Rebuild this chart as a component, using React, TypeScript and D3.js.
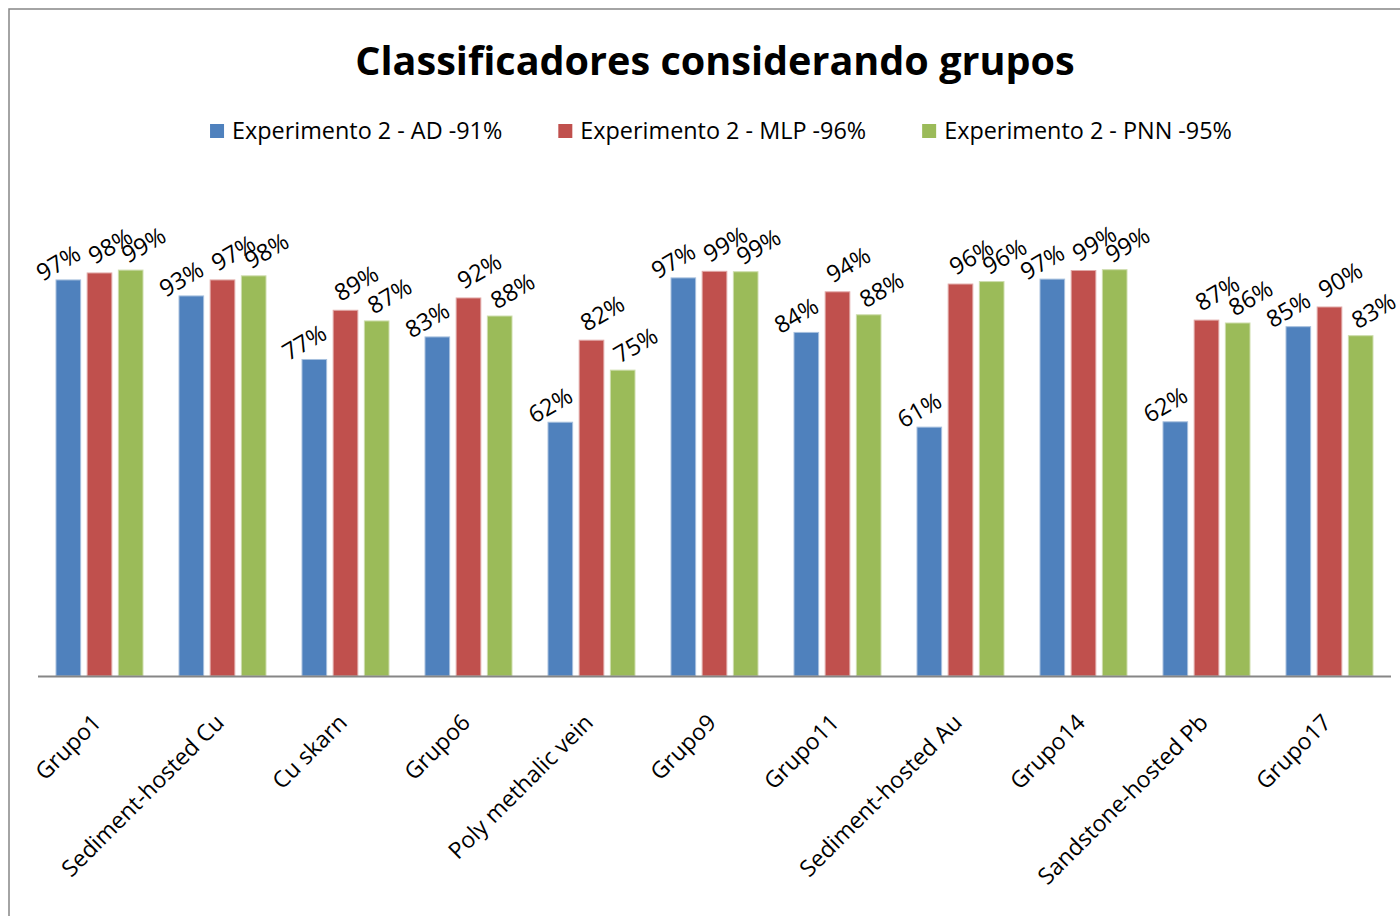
import React, { useEffect, useRef } from "react";
import * as d3 from "d3";

const categories = [
  "Grupo1",
  "Sediment-hosted Cu",
  "Cu skarn",
  "Grupo6",
  "Poly methalic vein",
  "Grupo9",
  "Grupo11",
  "Sediment-hosted Au",
  "Grupo14",
  "Sandstone-hosted Pb",
  "Grupo17",
];
const seriesNames = [
  "Experimento 2 - AD -91%",
  "Experimento 2 - MLP -96%",
  "Experimento 2 - PNN -95%",
];
const adValues = [0.966, 0.927, 0.772, 0.827, 0.619, 0.971, 0.838, 0.607, 0.968, 0.62, 0.852];
const mlpValues = [0.983, 0.966, 0.892, 0.922, 0.819, 0.987, 0.937, 0.956, 0.989, 0.868, 0.9];
const pnnValues = [0.99, 0.976, 0.866, 0.878, 0.746, 0.986, 0.881, 0.962, 0.991, 0.861, 0.83];
const titleText = "Classificadores considerando grupos";

const colors = ["#4F81BD", "#C0504D", "#9BBB59"];
const strokes = ["#A7C0DE", "#E0A8A6", "#CDDDAC"];
const labelOffsets = [
  [-10, -17],
  [11, -27],
  [13, -25],
];

const W = 1400;
const H = 916;
const FONT = "'Open Sans', sans-serif";

export default function App() {
  const ref = useRef<SVGSVGElement>(null);

  useEffect(() => {
    const svg = d3.select(ref.current);
    svg.selectAll("*").remove();

    const allValues = [adValues, mlpValues, pnnValues];

    svg
      .append("rect")
      .attr("x", 9)
      .attr("y", 9)
      .attr("width", 1430)
      .attr("height", 940)
      .attr("fill", "#fff")
      .attr("stroke", "#868686")
      .attr("stroke-width", 1.5);

    const x0 = d3.scaleBand<string>().domain(categories).range([38, 1391]);
    const x1 = d3
      .scaleBand<number>()
      .domain([0, 1, 2])
      .range([18, 105])
      .paddingInner(0.21);
    const y = d3.scaleLinear().domain([0, 1.2]).range([676, 184]);

    svg
      .append("text")
      .attr("x", 715)
      .attr("y", 75)
      .attr("text-anchor", "middle")
      .attr("font-family", FONT)
      .attr("font-weight", "bold")
      .attr("font-size", 39.6)
      .attr("fill", "#000")
      .text(titleText);

    const legend = svg.append("g");
    const items = seriesNames.map((name, i) => {
      const g = legend.append("g");
      g.append("rect")
        .attr("x", 0)
        .attr("y", -7)
        .attr("width", 14)
        .attr("height", 14)
        .attr("fill", colors[i]);
      const t = g
        .append("text")
        .attr("x", 22)
        .attr("y", 0)
        .attr("dy", "0.35em")
        .attr("font-family", FONT)
        .attr("font-size", 23.4)
        .attr("fill", "#000")
        .text(name);
      const len = (t.node() as SVGTextElement).getComputedTextLength();
      return { g, w: 22 + len };
    });
    const gap = 56;
    const total = d3.sum(items, (d) => d.w) + gap * (items.length - 1);
    let cx = 721 - total / 2;
    items.forEach((it) => {
      it.g.attr("transform", `translate(${cx},131)`);
      cx += it.w + gap;
    });

    const groups = svg
      .append("g")
      .selectAll("g")
      .data(categories)
      .join("g")
      .attr("transform", (d) => `translate(${x0(d)},0)`);

    groups.each(function (cat, ci) {
      const g = d3.select(this);
      [0, 1, 2].forEach((si) => {
        const v = allValues[si][ci];
        g.append("rect")
          .attr("x", x1(si)!)
          .attr("y", y(v))
          .attr("width", x1.bandwidth())
          .attr("height", y(0) - y(v))
          .attr("fill", colors[si])
          .attr("stroke", strokes[si])
          .attr("stroke-width", 1);
      });
    });

    svg
      .append("line")
      .attr("x1", 38)
      .attr("x2", 1391)
      .attr("y1", 676.5)
      .attr("y2", 676.5)
      .attr("stroke", "#868686")
      .attr("stroke-width", 2);

    groups.each(function (cat, ci) {
      const g = d3.select(this);
      [0, 1, 2].forEach((si) => {
        const v = allValues[si][ci];
        const lx = x1(si)! + x1.bandwidth() / 2 + labelOffsets[si][0];
        const ly = y(v) + labelOffsets[si][1];
        g.append("text")
          .attr("transform", `translate(${lx},${ly}) rotate(-30)`)
          .attr("text-anchor", "middle")
          .attr("dy", "0.35em")
          .attr("font-family", FONT)
          .attr("font-size", 23.5)
          .attr("fill", "#000")
          .text(d3.format(".0%")(v));
      });
    });

    svg
      .append("g")
      .selectAll("text")
      .data(categories)
      .join("text")
      .attr(
        "transform",
        (d) => `translate(${x0(d)! + x0.bandwidth() / 2 + 3},724) rotate(-45)`
      )
      .attr("text-anchor", "end")
      .attr("font-family", FONT)
      .attr("font-size", 23)
      .attr("fill", "#000")
      .text((d) => d);
  }, []);

  return (
    <svg
      ref={ref}
      width={W}
      height={H}
      style={{ position: "absolute", left: 0, top: 0, background: "#fff" }}
    />
  );
}
